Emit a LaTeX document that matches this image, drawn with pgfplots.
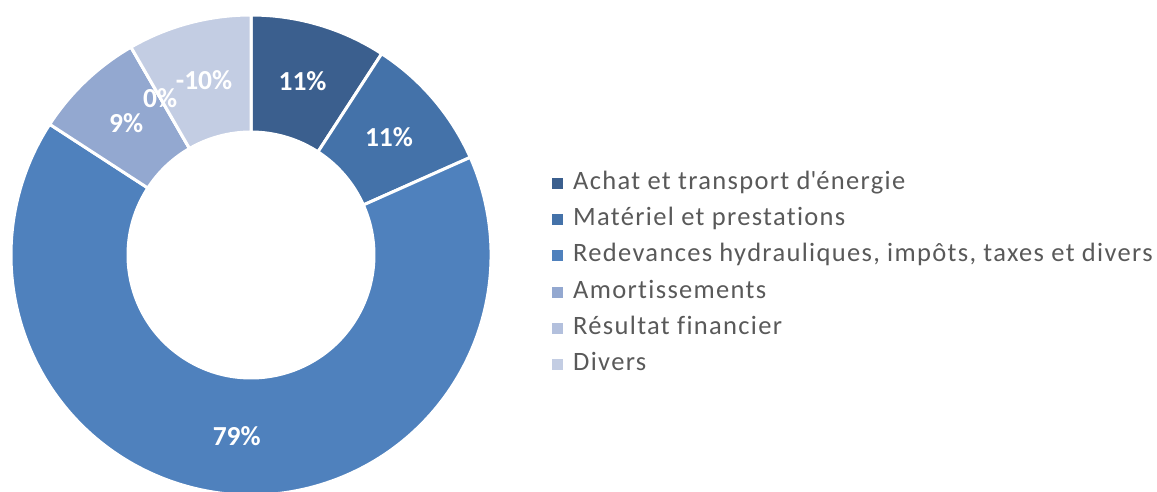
\documentclass[border=0pt]{standalone}
\usepackage{fontspec}
\setmainfont{Carlito}[Ligatures={NoCommon}]
\newfontfamily\legfont{Carlito}[LetterSpace=5.0, Ligatures={NoCommon}]
\usepackage{pgfplots}
\pgfplotsset{compat=1.18}
\usepackage{pgfplotstable}
\definecolor{c1}{HTML}{3B5F8E}
\definecolor{c2}{HTML}{4472A9}
\definecolor{c3}{HTML}{4F81BD}
\definecolor{c4}{HTML}{93A8D0}
\definecolor{c5}{HTML}{B3C0DD}
\definecolor{c6}{HTML}{C3CDE3}
\definecolor{txt}{HTML}{595959}

\pgfplotstableread{
value col
11 c1
11 c2
79 c3
9 c4
0 c5
-10 c6
}\piedata

\begin{document}
\begin{tikzpicture}
\begin{axis}[
  x=1pt, y=1pt, xmin=0, xmax=1157, ymin=0, ymax=491,
  hide axis, clip=true, disabledatascaling,
  legend cell align=left,
  legend image code/.code={\fill[#1, draw=none] (0pt,-5.5pt) rectangle (11pt,5.5pt);},
  legend style={draw=none, fill=none, at={(axis description cs:0.4771,0.442)},
    anchor=west, inner sep=0pt, font=\legfont\fontsize{26.5}{30}\selectfont, text=txt,
    nodes={inner sep=0pt, text height=18pt, text depth=6pt},
    row sep=12.2pt,
    /tikz/every odd column/.append style={column sep=10pt}},
]
\addplot[draw=none, forget plot] coordinates {(0,0) (1157,491)};
\pgfplotsextra{%
  \begin{scope}
  \clip (axis cs:0,0) rectangle (axis cs:1157,491);
  \pgfplotstablegetrowsof{\piedata}%
  \pgfmathtruncatemacro\lastrow{\pgfplotsretval-1}%
  \gdef\pietotal{0}%
  \foreach \i in {0,...,\lastrow}{%
    \pgfplotstablegetelem{\i}{value}\of\piedata
    \pgfmathsetmacro\tmpsum{\pietotal+abs(\pgfplotsretval)}%
    \xdef\pietotal{\tmpsum}%
  }%
  \gdef\piecum{0}%
  \foreach \i in {0,...,\lastrow}{%
    \pgfplotstablegetelem{\i}{value}\of\piedata
    \edef\sv{\pgfplotsretval}%
    \pgfplotstablegetelem{\i}{col}\of\piedata
    \edef\scol{\pgfplotsretval}%
    \pgfmathsetmacro\sa{90-\piecum/\pietotal*360}%
    \pgfmathsetmacro\sb{90-(\piecum+abs(\sv))/\pietotal*360}%
    \fill[\scol, draw=white, line width=3pt]
      (axis cs:{251+240*cos(\sa)},{236+240*sin(\sa)})
      arc[start angle=\sa, end angle=\sb, radius=240pt]
      -- (axis cs:{251+123*cos(\sb)},{236+123*sin(\sb)})
      arc[start angle=\sb, end angle=\sa, radius=123pt] -- cycle;
    \pgfmathsetmacro\tmpcum{\piecum+abs(\sv)}%
    \xdef\piecum{\tmpcum}%
  }%
  \gdef\piecum{0}%
  \foreach \i in {0,...,\lastrow}{%
    \pgfplotstablegetelem{\i}{value}\of\piedata
    \edef\sv{\pgfplotsretval}%
    \pgfmathsetmacro\sm{90-(\piecum+abs(\sv)/2)/\pietotal*360}%
    \node[text=white, font=\fontsize{27.5}{30}\selectfont\bfseries]
      at (axis cs:{251+181.5*cos(\sm)},{236+181.5*sin(\sm)}) {\sv\%};
    \pgfmathsetmacro\tmpcum{\piecum+abs(\sv)}%
    \xdef\piecum{\tmpcum}%
  }%
  \end{scope}
}
\addlegendimage{fill=c1}
\addlegendimage{fill=c2}
\addlegendimage{fill=c3}
\addlegendimage{fill=c4}
\addlegendimage{fill=c5}
\addlegendimage{fill=c6}
\legend{Achat et transport d\textquotesingle énergie, Matériel et prestations,
  {Redevances hydrauliques, impôts, taxes et divers}, Amortissements,
  Résultat financier, Divers}
\end{axis}
\end{tikzpicture}
\end{document}
